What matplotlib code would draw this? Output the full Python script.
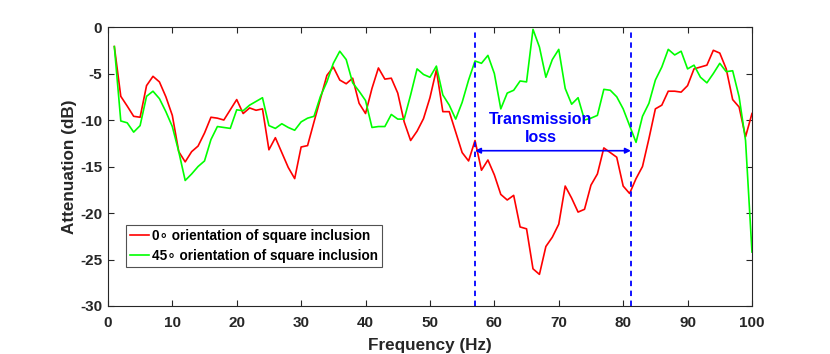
import numpy as np
import matplotlib.pyplot as plt

plt.rcParams['font.family'] = ['Liberation Sans', 'DejaVu Sans']
plt.rcParams['font.weight'] = 'bold'
plt.rcParams['axes.unicode_minus'] = False

freq = np.arange(1, 101)

att_0deg = [
    -2.1, -7.45, -8.5, -9.6, -9.7, -6.3, -5.3, -5.9, -7.5, -9.5,
    -13.4, -14.5, -13.4, -12.8, -11.4, -9.7, -9.8, -10.0, -8.9, -7.8,
    -9.3, -8.7, -8.95, -8.8, -13.2, -11.9, -13.5, -15.1, -16.3, -12.9,
    -12.75, -10.2, -7.7, -5.2, -4.3, -5.7, -6.1, -5.5, -8.2, -9.3,
    -6.6, -4.4, -5.6, -5.5, -7.1, -10.2, -12.2, -11.2, -9.85, -7.6,
    -4.6, -9.1, -9.1, -11.3, -13.5, -14.4, -12.2, -15.4, -14.3, -15.9,
    -18.0, -18.6, -18.1, -21.5, -21.7, -26.0, -26.6, -23.6, -22.6, -21.2,
    -17.1, -18.4, -19.9, -19.6, -17.0, -15.8, -13.0, -13.5, -14.0, -17.1,
    -17.9, -16.3, -15.0, -12.0, -8.8, -8.4, -6.9, -6.9, -7.0, -6.3,
    -4.5, -4.3, -4.1, -2.5, -2.8, -4.5, -7.8, -8.6, -11.8, -9.3,
]

att_45deg = [
    -2.1, -10.1, -10.3, -11.3, -10.6, -7.45, -6.9, -7.7, -9.1, -10.7,
    -13.4, -16.5, -15.8, -15.0, -14.4, -12.1, -10.7, -10.8, -10.9, -8.9,
    -9.0, -8.4, -8.0, -7.6, -10.6, -10.9, -10.4, -10.8, -11.1, -10.2,
    -9.8, -9.6, -7.45, -5.9, -3.9, -2.6, -3.5, -6.0, -6.9, -7.9,
    -10.8, -10.7, -10.7, -9.4, -9.9, -9.9, -7.3, -4.5, -5.1, -5.4,
    -4.2, -7.3, -8.4, -9.9, -8.1, -5.7, -3.65, -3.9, -3.05, -5.0,
    -8.8, -7.1, -6.8, -5.8, -5.9, -0.25, -2.15, -5.4, -3.5, -2.4,
    -6.6, -8.3, -7.6, -10.0, -9.8, -9.5, -6.7, -6.8, -7.5, -8.8,
    -10.6, -12.4, -9.6, -8.2, -5.7, -4.3, -2.4, -3.0, -2.6, -4.5,
    -4.1, -5.4, -6.0, -5.0, -3.9, -4.8, -4.7, -7.5, -12.2, -24.2,
]

band_lo, band_hi = 57, 81.2
arrow_y = -13.3

fig = plt.figure(figsize=(8.3, 3.54), dpi=100)
ax = fig.add_axes([0.130, 0.1356, 0.776, 0.788])

ax.plot(freq, att_0deg, color='red', lw=1.2, label='0\u2218 orientation of square inclusion')
ax.plot(freq, att_45deg, color=(0, 1, 0), lw=1.2, label='45\u2218 orientation of square inclusion')

ax.axvline(band_lo, color='blue', ls='--', lw=1.3, dashes=(3, 2.5))
ax.axvline(band_hi, color='blue', ls='--', lw=1.3, dashes=(3, 2.5))
ax.annotate('', xy=(band_lo, arrow_y), xytext=(band_hi, arrow_y),
            arrowprops=dict(arrowstyle='<|-|>', color='blue', lw=1.2,
                            mutation_scale=8, shrinkA=0, shrinkB=0))
ax.text(67.2, -10.9, 'Transmission\nloss', color='blue', fontsize=11.5,
        fontweight='bold', ha='center', va='center', linespacing=1.3)

ax.set_xlim(0, 100)
ax.set_ylim(-30, 0)
ax.set_xticks(np.arange(0, 101, 10))
ax.set_yticks(np.arange(-30, 1, 5))
ax.tick_params(direction='in', top=True, right=True, length=4.5, width=0.8,
               labelsize=11, colors='#262626')
ax.tick_params(axis='x', pad=7)
ax.tick_params(axis='y', pad=4)
for lbl in ax.get_xticklabels() + ax.get_yticklabels():
    lbl.set_fontweight('bold')
for sp in ax.spines.values():
    sp.set_color('#262626')
    sp.set_linewidth(0.8)

ax.set_xlabel('Frequency (Hz)', fontsize=12.3, fontweight='bold', color='#262626', labelpad=6)
ax.set_ylabel('Attenuation (dB)', fontsize=12.3, fontweight='bold', color='#262626', labelpad=2)

leg = ax.legend(loc='lower left', bbox_to_anchor=(0.028, 0.14), fontsize=9.8,
                frameon=True, fancybox=False, edgecolor='#262626',
                handlelength=1.4, handletextpad=0.2, borderpad=0.3,
                labelspacing=0.42, borderaxespad=0)
leg.get_frame().set_linewidth(0.8)
for t in leg.get_texts():
    t.set_fontweight('bold')

fig.savefig('out.png', dpi=100)
